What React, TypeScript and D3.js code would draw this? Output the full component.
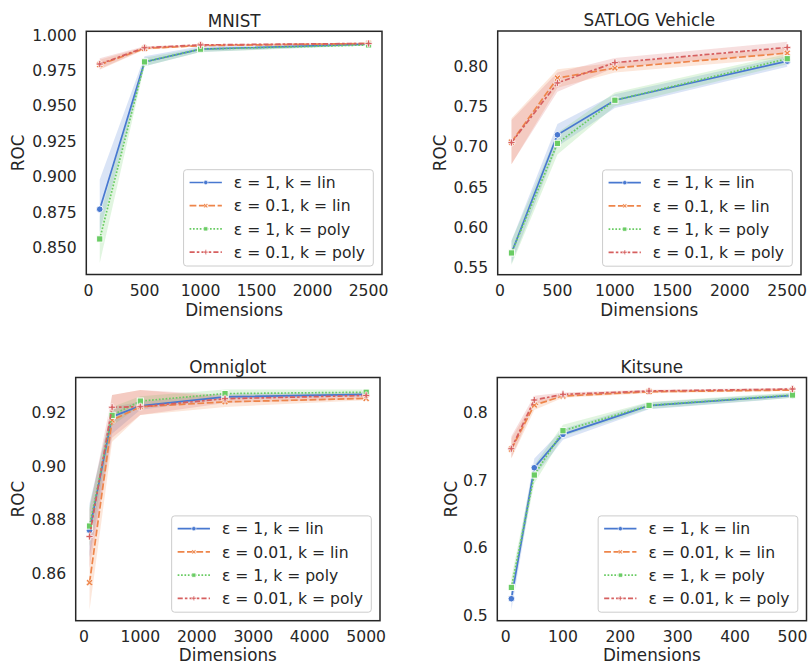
import React from 'react';
import * as d3 from 'd3';

// ---------- data ----------
const COLORS = ['#4878d0', '#ee854a', '#6acc64', '#d65f5f'];
const MARKERS = ['o', 'X', 's', 'P'];

const mnistX = [100, 500, 1000, 2500];
const mnistMean = [
  [0.877, 0.981, 0.990, 0.9935],
  [0.979, 0.9905, 0.9925, 0.994],
  [0.856, 0.981, 0.990, 0.993],
  [0.9795, 0.991, 0.993, 0.994],
];
const mnistLo = [
  [0.861, 0.978, 0.988, 0.993],
  [0.9755, 0.9895, 0.992, 0.9935],
  [0.839, 0.978, 0.988, 0.9925],
  [0.976, 0.990, 0.992, 0.9935],
];
const mnistHi = [
  [0.898, 0.985, 0.992, 0.994],
  [0.9825, 0.9915, 0.993, 0.9945],
  [0.872, 0.984, 0.991, 0.9935],
  [0.9835, 0.992, 0.9935, 0.9945],
];
const mnistLabels = ['ε = 1, k = lin', 'ε = 0.1, k = lin', 'ε = 1, k = poly', 'ε = 0.1, k = poly'];
const mnistYTicks = [0.85, 0.875, 0.9, 0.925, 0.95, 0.975, 1.0];
const mnistXTicks = [0, 500, 1000, 1500, 2000, 2500];

const satX = [100, 500, 1000, 2500];
const satMean = [
  [0.568, 0.7146, 0.7575, 0.806],
  [0.7055, 0.785, 0.7975, 0.816],
  [0.568, 0.704, 0.7575, 0.809],
  [0.705, 0.779, 0.8042, 0.823],
];
const satLo = [
  [0.555, 0.700, 0.748, 0.799],
  [0.678, 0.773, 0.792, 0.810],
  [0.553, 0.690, 0.750, 0.802],
  [0.678, 0.768, 0.798, 0.816],
];
const satHi = [
  [0.583, 0.728, 0.765, 0.812],
  [0.735, 0.796, 0.804, 0.822],
  [0.583, 0.717, 0.767, 0.815],
  [0.733, 0.792, 0.810, 0.830],
];
const satLabels = ['ε = 1, k = lin', 'ε = 0.1, k = lin', 'ε = 1, k = poly', 'ε = 0.1, k = poly'];
const satYTicks = [0.55, 0.6, 0.65, 0.7, 0.75, 0.8];
const satXTicks = [0, 500, 1000, 1500, 2000, 2500];

const omniX = [100, 500, 1000, 2500, 5000];
const omniMean = [
  [0.876, 0.9184, 0.9224, 0.9258, 0.9267],
  [0.8565, 0.9171, 0.9221, 0.9239, 0.9252],
  [0.8776, 0.9189, 0.9242, 0.927, 0.9275],
  [0.8737, 0.9219, 0.9221, 0.9251, 0.9263],
];
const omniLo = [
  [0.866, 0.912, 0.921, 0.925, 0.926],
  [0.8463, 0.909, 0.919, 0.922, 0.9245],
  [0.870, 0.915, 0.9225, 0.9255, 0.9265],
  [0.862, 0.9105, 0.919, 0.9235, 0.925],
];
const omniHi = [
  [0.886, 0.922, 0.924, 0.927, 0.9275],
  [0.868, 0.9265, 0.9283, 0.9255, 0.926],
  [0.885, 0.922, 0.926, 0.9285, 0.9285],
  [0.884, 0.9265, 0.9283, 0.9265, 0.927],
];
const omniLabels = ['ε = 1, k = lin', 'ε = 0.01, k = lin', 'ε = 1, k = poly', 'ε = 0.01, k = poly'];
const omniYTicks = [0.86, 0.88, 0.9, 0.92];
const omniXTicks = [0, 1000, 2000, 3000, 4000, 5000];

const kitX = [10, 50, 100, 250, 500];
const kitMean = [
  [0.5242, 0.7184, 0.7679, 0.8104, 0.8257],
  [0.7461, 0.8114, 0.8247, 0.8311, 0.8336],
  [0.541, 0.7076, 0.7733, 0.8109, 0.8262],
  [0.7466, 0.8188, 0.8272, 0.8321, 0.8351],
];
const kitLo = [
  [0.507, 0.705, 0.760, 0.805, 0.822],
  [0.732, 0.804, 0.822, 0.829, 0.832],
  [0.528, 0.695, 0.765, 0.806, 0.822],
  [0.733, 0.812, 0.824, 0.830, 0.833],
];
const kitHi = [
  [0.540, 0.732, 0.776, 0.815, 0.829],
  [0.762, 0.818, 0.828, 0.833, 0.835],
  [0.555, 0.722, 0.782, 0.816, 0.830],
  [0.765, 0.825, 0.830, 0.834, 0.837],
];
const kitLabels = ['ε = 1, k = lin', 'ε = 0.01, k = lin', 'ε = 1, k = poly', 'ε = 0.01, k = poly'];
const kitYTicks = [0.5, 0.6, 0.7, 0.8];
const kitXTicks = [0, 100, 200, 300, 400, 500];

// ---------- style ----------
const FONT = "'DejaVu Sans', sans-serif";
const TICK_FS = 15.6;
const LABEL_FS = 16.8;
const TEXT = '#262626';
const LW = 1.7;
const DASHES = ['', `${4 * LW},${1.5 * LW}`, `${1 * LW},${1 * LW}`, `${3 * LW},${1.25 * LW},${1.5 * LW},${1.25 * LW}`];

function measure(text: string, fs: number) {
  const c = document.createElement('canvas');
  const ctx = c.getContext('2d');
  if (!ctx) return text.length * fs * 0.55;
  ctx.font = `${fs}px 'DejaVu Sans'`;
  return ctx.measureText(text).width;
}

function plusPoly(s: number, a: number) {
  return [
    [-a, -s], [a, -s], [a, -a], [s, -a], [s, a], [a, a], [a, s], [-a, s], [-a, a], [-s, a], [-s, -a], [-a, -a],
  ];
}

function Marker({ kind, x, y, color, scale = 1 }: { kind: string; x: number; y: number; color: string; scale?: number }) {
  const sw = 0.9 * scale;
  if (kind === 'o') return <circle cx={x} cy={y} r={3.3 * scale} fill={color} stroke="#fff" strokeWidth={sw} />;
  if (kind === 's') {
    const h = 3.1 * scale;
    return <rect x={x - h} y={y - h} width={2 * h} height={2 * h} fill={color} stroke="#fff" strokeWidth={sw} />;
  }
  if (kind === 'P') {
    const pts = plusPoly(3.5 * scale, 1.05 * scale).map(([px, py]) => `${x + px},${y + py}`).join(' ');
    return <polygon points={pts} fill={color} stroke="#fff" strokeWidth={sw * 0.8} />;
  }
  // X
  const r = Math.SQRT1_2;
  const pts = plusPoly(3.7 * scale, 1.05 * scale)
    .map(([px, py]) => [(px - py) * r, (px + py) * r])
    .map(([px, py]) => `${x + px},${y + py}`)
    .join(' ');
  return <polygon points={pts} fill={color} stroke="#fff" strokeWidth={sw * 0.8} />;
}

type PanelProps = {
  title: string;
  xs: number[];
  mean: number[][];
  lo: number[][];
  hi: number[][];
  labels: string[];
  yTicks: number[];
  xTicks: number[];
  yFmt: string;
  rect: { l: number; r: number; t: number; b: number };
  xDom: [number, number];
  yDom: [number, number];
  yLabelOff: number;
};

function Panel(p: PanelProps) {
  const { rect } = p;
  const x = d3.scaleLinear().domain(p.xDom).range([rect.l, rect.r]);
  const y = d3.scaleLinear().domain(p.yDom).range([rect.b, rect.t]);
  const fmt = d3.format(p.yFmt);
  const idx = p.xs.map((_, i) => i);
  const area = (s: number) =>
    d3.area<number>().x((i) => x(p.xs[i])).y0((i) => y(p.lo[s][i])).y1((i) => y(p.hi[s][i]))(idx) || '';
  const line = (s: number) => d3.line<number>().x((i) => x(p.xs[i])).y((i) => y(p.mean[s][i]))(idx) || '';

  const textW = Math.max(...p.labels.map((t) => measure(t, TICK_FS)));
  const legW = 50.3 + textW + 8.3;
  const legH = 96.3;
  const legR = rect.r - 8.7;
  const legB = rect.b - 8.5;
  const legL = legR - legW;
  const legT = legB - legH;
  const cx = (rect.l + rect.r) / 2;
  const cy = (rect.t + rect.b) / 2;

  return (
    <g>
      {/* bands */}
      {p.mean.map((_, s) => (
        <path key={`a${s}`} d={area(s)} fill={COLORS[s]} fillOpacity={0.2} stroke="none" />
      ))}
      {/* lines */}
      {p.mean.map((_, s) => (
        <g key={`l${s}`}>
          <path d={line(s)} fill="none" stroke={COLORS[s]} strokeWidth={LW} strokeDasharray={DASHES[s]} />
          {p.xs.map((xv, i) => (
            <Marker key={i} kind={MARKERS[s]} x={x(xv)} y={y(p.mean[s][i])} color={COLORS[s]} />
          ))}
        </g>
      ))}
      {/* spines */}
      <rect x={rect.l} y={rect.t} width={rect.r - rect.l} height={rect.b - rect.t} fill="none" stroke={TEXT} strokeWidth={1.5} />
      {/* y ticks */}
      {p.yTicks.map((t) => (
        <text key={`y${t}`} x={rect.l - 9.5} y={y(t) + 0.365 * TICK_FS} textAnchor="end" fontSize={TICK_FS} fill={TEXT} fontFamily={FONT}>
          {fmt(t)}
        </text>
      ))}
      {/* x ticks */}
      {p.xTicks.map((t) => (
        <text key={`x${t}`} x={x(t)} y={rect.b + 21.6} textAnchor="middle" fontSize={TICK_FS} fill={TEXT} fontFamily={FONT}>
          {t}
        </text>
      ))}
      <text x={cx} y={Math.min(rect.b + 41.3, 661.2)} textAnchor="middle" fontSize={LABEL_FS} fill={TEXT} fontFamily={FONT}>
        Dimensions
      </text>
      <text
        transform={`translate(${rect.l - p.yLabelOff},${cy}) rotate(-90)`}
        textAnchor="middle"
        fontSize={LABEL_FS}
        fill={TEXT}
        fontFamily={FONT}
      >
        ROC
      </text>
      <text x={cx} y={rect.t - 4.8} textAnchor="middle" fontSize={LABEL_FS} fill={TEXT} fontFamily={FONT}>
        {p.title}
      </text>
      {/* legend */}
      <rect x={legL} y={legT} width={legW} height={legH} rx={3} fill="#fff" fillOpacity={0.8} stroke="#cccccc" strokeWidth={1} />
      {p.labels.map((lab, s) => {
        const ry = legT + 12.8 + s * 23.2;
        return (
          <g key={`g${s}`}>
            <line x1={legL + 6} x2={legL + 38.3} y1={ry} y2={ry} stroke={COLORS[s]} strokeWidth={LW} strokeDasharray={DASHES[s]} />
            <Marker kind={MARKERS[s]} x={legL + 22.2} y={ry} color={COLORS[s]} scale={0.65} />
            <text x={legL + 50.3} y={ry + 0.365 * TICK_FS} fontSize={TICK_FS} fill={TEXT} fontFamily={FONT}>
              {lab}
            </text>
          </g>
        );
      })}
    </g>
  );
}

export default function App() {
  return (
    <svg width={808} height={664} style={{ position: 'absolute', left: 0, top: 0, background: '#fff' }}>
      <rect x={0} y={0} width={808} height={664} fill="#fff" />
      <Panel
        title="MNIST"
        xs={mnistX}
        mean={mnistMean}
        lo={mnistLo}
        hi={mnistHi}
        labels={mnistLabels}
        yTicks={mnistYTicks}
        xTicks={mnistXTicks}
        yFmt=".3f"
        rect={{ l: 86.3, r: 382, t: 31.3, b: 274.5 }}
        xDom={[-20, 2620]}
        yDom={[0.8309, 1.0026]}
        yLabelOff={62}
      />
      <Panel
        title="SATLOG Vehicle"
        xs={satX}
        mean={satMean}
        lo={satLo}
        hi={satHi}
        labels={satLabels}
        yTicks={satYTicks}
        xTicks={satXTicks}
        yFmt=".2f"
        rect={{ l: 497.7, r: 801, t: 31, b: 274.7 }}
        xDom={[-20, 2620]}
        yDom={[0.541, 0.8434]}
        yLabelOff={51.6}
      />
      <Panel
        title="Omniglot"
        xs={omniX}
        mean={omniMean}
        lo={omniLo}
        hi={omniHi}
        labels={omniLabels}
        yTicks={omniYTicks}
        xTicks={omniXTicks}
        yFmt=".2f"
        rect={{ l: 75.7, r: 380, t: 377.5, b: 620.7 }}
        xDom={[-145, 5245]}
        yDom={[0.8423, 0.933]}
        yLabelOff={51.3}
      />
      <Panel
        title="Kitsune"
        xs={kitX}
        mean={kitMean}
        lo={kitLo}
        hi={kitHi}
        labels={kitLabels}
        yTicks={kitYTicks}
        xTicks={kitXTicks}
        yFmt=".1f"
        rect={{ l: 497.3, r: 806.5, t: 377.5, b: 620.7 }}
        xDom={[-14.5, 524.5]}
        yDom={[0.4916, 0.8522]}
        yLabelOff={40.5}
      />
    </svg>
  );
}
